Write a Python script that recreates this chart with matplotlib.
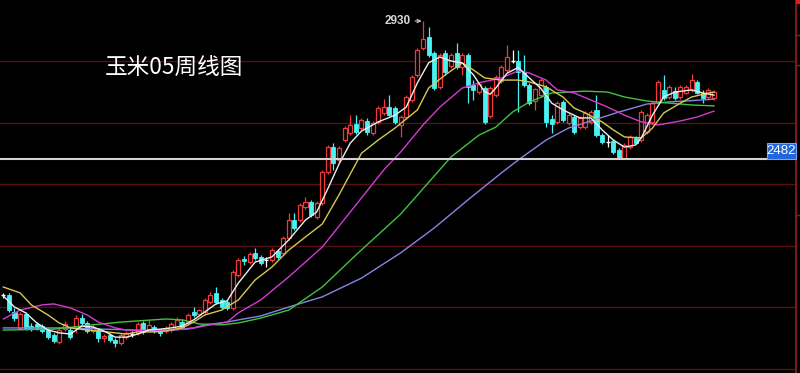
import matplotlib
matplotlib.use('Agg')
import matplotlib.pyplot as plt
import matplotlib.transforms as mtransforms
from matplotlib.patches import Rectangle
import numpy as np

plt.rcParams['font.family'] = ['Noto Sans CJK SC', 'DejaVu Sans']

# ---------------- data (weekly candles, corn 05) ----------------
opens = [
    2039, 2039, 1984, 1932, 1977, 1938, 1945, 1938, 1925, 1909,
    1886, 1928, 1925, 1932, 1964, 1948, 1922, 1925, 1899, 1909,
    1893, 1883, 1902, 1912, 1916, 1948, 1928, 1935, 1922, 1922,
    1925, 1932, 1951, 1948, 1984, 1977, 1984, 2016, 2046, 2023,
    2016, 1997, 2104, 2156, 2146, 2176, 2163, 2153, 2153, 2182,
    2176, 2224, 2283, 2283, 2325, 2342, 2293, 2338, 2439, 2520,
    2478, 2543, 2566, 2595, 2582, 2605, 2566, 2602, 2631, 2650,
    2647, 2592, 2618, 2673, 2755, 2842, 2878, 2826, 2716, 2826,
    2784, 2826, 2781, 2820, 2722, 2699, 2712, 2621, 2689, 2735,
    2771, 2800, 2800, 2764, 2722, 2670, 2689, 2716, 2611, 2602,
    2667, 2598, 2618, 2585, 2585, 2602, 2641, 2559, 2537, 2540,
    2511, 2484, 2520, 2550, 2543, 2569, 2602, 2667, 2706, 2683,
    2702, 2683, 2696, 2706, 2732, 2696, 2683, 2680]
highs = [
    2046, 2046, 1997, 1984, 1984, 1948, 1951, 1945, 1932, 1916,
    1932, 1955, 1935, 1974, 1977, 1955, 1942, 1932, 1912, 1916,
    1899, 1916, 1922, 1922, 1951, 1955, 1958, 1942, 1928, 1938,
    1951, 1968, 1961, 1981, 2000, 1994, 2029, 2049, 2065, 2029,
    2023, 2120, 2159, 2166, 2179, 2192, 2169, 2163, 2192, 2189,
    2231, 2306, 2306, 2338, 2358, 2348, 2345, 2446, 2527, 2533,
    2524, 2589, 2624, 2624, 2615, 2615, 2605, 2654, 2676, 2689,
    2654, 2624, 2689, 2755, 2842, 2930, 2911, 2833, 2826, 2836,
    2826, 2859, 2826, 2826, 2738, 2732, 2719, 2719, 2755, 2787,
    2852, 2836, 2836, 2820, 2729, 2712, 2745, 2722, 2624, 2670,
    2673, 2631, 2624, 2621, 2637, 2641, 2689, 2566, 2559, 2546,
    2517, 2533, 2559, 2556, 2641, 2631, 2670, 2738, 2755, 2722,
    2716, 2722, 2722, 2758, 2738, 2706, 2712, 2706]
lows = [
    2029, 1984, 1955, 1925, 1925, 1922, 1925, 1916, 1896, 1883,
    1880, 1922, 1896, 1916, 1942, 1916, 1916, 1886, 1886, 1886,
    1870, 1876, 1896, 1902, 1909, 1912, 1922, 1916, 1906, 1916,
    1919, 1925, 1928, 1942, 1968, 1971, 1977, 2010, 2010, 1994,
    1990, 1990, 2098, 2137, 2140, 2153, 2137, 2130, 2146, 2156,
    2169, 2218, 2250, 2277, 2319, 2293, 2286, 2332, 2433, 2446,
    2472, 2537, 2559, 2563, 2576, 2559, 2559, 2595, 2624, 2620,
    2595, 2553, 2611, 2667, 2748, 2836, 2813, 2706, 2709, 2755,
    2777, 2774, 2755, 2663, 2673, 2693, 2595, 2615, 2683, 2729,
    2764, 2794, 2634, 2716, 2657, 2641, 2683, 2585, 2566, 2595,
    2602, 2592, 2563, 2579, 2579, 2595, 2553, 2530, 2520, 2498,
    2481, 2481, 2514, 2530, 2537, 2563, 2595, 2660, 2673, 2676,
    2673, 2676, 2693, 2699, 2693, 2663, 2676, 2673]
closes = [
    2039, 1990, 1964, 1977, 1932, 1932, 1932, 1922, 1902, 1889,
    1925, 1945, 1902, 1964, 1948, 1922, 1935, 1899, 1906, 1893,
    1883, 1909, 1916, 1912, 1945, 1919, 1942, 1922, 1916, 1932,
    1945, 1958, 1935, 1974, 1974, 1990, 2023, 2039, 2016, 2000,
    1997, 2114, 2153, 2150, 2172, 2159, 2143, 2153, 2185, 2163,
    2224, 2283, 2257, 2332, 2342, 2299, 2338, 2439, 2520, 2468,
    2517, 2582, 2592, 2569, 2608, 2569, 2598, 2647, 2650, 2624,
    2602, 2618, 2683, 2748, 2836, 2872, 2820, 2712, 2820, 2764,
    2820, 2781, 2820, 2716, 2706, 2725, 2602, 2712, 2748, 2781,
    2813, 2800, 2764, 2722, 2663, 2709, 2738, 2602, 2595, 2663,
    2608, 2624, 2569, 2615, 2631, 2634, 2559, 2537, 2537, 2504,
    2485, 2527, 2553, 2533, 2634, 2624, 2663, 2732, 2680, 2716,
    2680, 2716, 2716, 2738, 2696, 2680, 2706, 2699]

# moving averages (week index, price)
ma5_weeks = [0, 2, 4, 6, 8, 10, 12, 14, 16, 18, 20, 22, 24, 26, 28, 30, 32, 34, 36, 38,
             40, 42, 45, 48, 51, 54, 56, 58, 60, 62, 64, 67, 70, 72, 74, 76, 78, 80, 82,
             84, 86, 87, 88, 90, 92, 94, 96, 98, 100, 103, 105, 107, 109, 111, 113, 114,
             116, 118, 120, 123, 125, 127]
ma5_values = [2036, 2000, 1981, 1948, 1925, 1916, 1912, 1938, 1935, 1922, 1902, 1902, 1912,
              1925, 1928, 1932, 1938, 1958, 1984, 2010, 2020, 2078, 2146, 2163, 2218, 2283,
              2309, 2385, 2465, 2533, 2572, 2602, 2624, 2650, 2729, 2794, 2813, 2800, 2794,
              2755, 2700, 2692, 2712, 2760, 2779, 2745, 2712, 2663, 2641, 2615, 2615, 2576,
              2543, 2520, 2527, 2550, 2624, 2683, 2699, 2706, 2696, 2689]
ma10_weeks = [0, 3, 5, 8, 10, 12, 15, 17, 20, 22, 24, 27, 29, 32, 34, 36, 39, 42, 45, 48,
              51, 54, 57, 60, 64, 67, 70, 74, 76, 79, 82, 84, 86, 89, 92, 94, 97, 100, 102,
              104, 107, 109, 111, 114, 116, 118, 121, 123, 126, 127]
ma10_values = [2065, 2046, 2007, 1974, 1948, 1932, 1925, 1922, 1916, 1912, 1919, 1919, 1922,
               1932, 1951, 1974, 1990, 2023, 2088, 2130, 2185, 2228, 2270, 2365, 2500, 2543,
               2582, 2641, 2712, 2755, 2794, 2771, 2745, 2738, 2738, 2732, 2716, 2683, 2647,
               2631, 2602, 2576, 2553, 2550, 2582, 2631, 2663, 2683, 2696, 2699]
ma20_weeks = [0, 3, 7, 9, 12, 15, 17, 20, 22, 26, 29, 33, 37, 40, 42, 46, 51, 57, 62, 68,
              71, 75, 78, 82, 85, 89, 92, 94, 97, 99, 102, 105, 108, 111, 114, 117, 121, 124, 127]
ma20_values = [1961, 1990, 2007, 2010, 1997, 1974, 1951, 1932, 1925, 1922, 1925, 1928, 1942,
               1951, 1981, 2023, 2098, 2195, 2309, 2446, 2504, 2592, 2650, 2712, 2729, 2745,
               2768, 2761, 2738, 2706, 2696, 2673, 2650, 2624, 2602, 2592, 2605, 2618, 2637]
ma40_weeks = [0, 9, 16, 21, 29, 32, 35, 39, 42, 46, 51, 57, 63, 71, 80, 85, 88, 91, 94, 98,
              104, 108, 111, 115, 119, 123, 127]
ma40_values = [1925, 1928, 1942, 1951, 1961, 1958, 1945, 1942, 1948, 1964, 1990, 2065, 2169,
               2302, 2488, 2559, 2585, 2634, 2667, 2696, 2702, 2699, 2683, 2670, 2663, 2657, 2654]
ma60_weeks = [0, 12, 18, 24, 30, 34, 36, 40, 42, 46, 51, 57, 64, 71, 77, 83, 89, 92, 97, 101,
              106, 110, 115, 119, 122, 127]
ma60_values = [1932, 1932, 1928, 1925, 1925, 1932, 1942, 1951, 1958, 1971, 2000, 2033, 2094,
               2176, 2257, 2348, 2436, 2478, 2543, 2582, 2611, 2634, 2660, 2667, 2670, 2676]

grid_levels = [1800, 2000, 2200, 2400, 2600, 2800]
peak_week, peak_value = 75, 2930
ref_price = 2482
title = '玉米05周线图'

# ---------------- style ----------------
RED = '#f03a3a'
CYAN = '#48f2f2'
GRID = '#561212'
AXIS = '#8c1c1c'

W, H = 800, 373
fig = plt.figure(figsize=(W / 100, H / 100), dpi=100, facecolor='black')
ax = fig.add_axes([0, 0, 795.5 / W, 1])
ax.set_facecolor('black')
ax.set_xlim(-0.59, 141.56)
ax.set_ylim(1785.4, 2998.4)
for side in ['top', 'bottom', 'left']:
    ax.spines[side].set_visible(False)
ax.spines['right'].set_color(AXIS)
ax.spines['right'].set_linewidth(1.3)
ax.set_xticks([])
ax.set_yticks([])

for lv in grid_levels:
    ax.axhline(lv, color=GRID, lw=1.0, zorder=1)

# candles
x = np.arange(len(opens))
o = np.array(opens, float); c = np.array(closes, float)
h = np.array(highs, float); l = np.array(lows, float)
up = c > o
down = c < o
doji = c == o
bw = 0.72

ax.vlines(x[up], l[up], h[up], color=RED, lw=0.9, zorder=2)
ax.vlines(x[down], l[down], h[down], color=CYAN, lw=0.9, zorder=2)
ax.vlines(x[doji], l[doji], h[doji], color='white', lw=0.9, zorder=2)
ax.bar(x[up], c[up] - o[up], bottom=o[up], width=bw, facecolor='black',
       edgecolor=RED, linewidth=0.9, zorder=3)
ax.bar(x[down], o[down] - c[down], bottom=c[down], width=bw, facecolor=CYAN,
       edgecolor=CYAN, linewidth=0.6, zorder=3)
ax.hlines(c[doji], x[doji] - bw / 2, x[doji] + bw / 2, color='white', lw=1.0, zorder=3)

# moving averages
ax.plot(ma60_weeks, ma60_values, color='#8686e4', lw=1.0, zorder=4)
ax.plot(ma40_weeks, ma40_values, color='#3ec43e', lw=1.0, zorder=4)
ax.plot(ma20_weeks, ma20_values, color='#d23ad2', lw=1.0, zorder=4)
ax.plot(ma10_weeks, ma10_values, color='#d6c850', lw=1.0, zorder=4)
ax.plot(ma5_weeks, ma5_values, color='#eeeeee', lw=1.0, zorder=5)

# reference price line and label
box_left = 767 / 795.5
ax.axhline(ref_price, xmin=0, xmax=box_left, color='#d2d2d2', lw=1.5, zorder=6)
btrans = mtransforms.blended_transform_factory(ax.transAxes, ax.transData)
box_h = 16 * (2998.4 - 1785.4) / H
ax.add_patch(Rectangle((box_left, ref_price - 1), 1 - box_left, box_h, transform=btrans,
                       facecolor='#2266dd', edgecolor='#6aa6ff', lw=0.8, zorder=7,
                       clip_on=False))
ax.text((box_left + 1) / 2, ref_price - 1 + box_h / 2, str(ref_price), transform=btrans,
        ha='center', va='center', color='white', fontsize=9.5,
        family=['Liberation Sans', 'DejaVu Sans'], zorder=8)

# peak annotation
ax.annotate(str(peak_value), xy=(peak_week, peak_value), xytext=(-12, 0),
            textcoords='offset pixels', ha='right', va='center',
            fontsize=8.5, fontweight='bold', color='#d8d8d8',
            family=['Liberation Sans', 'DejaVu Sans'],
            arrowprops=dict(arrowstyle='->', color='#d0d0d0', lw=0.8,
                            shrinkA=1, shrinkB=1, mutation_scale=6), zorder=8)

# title
fig.text(105 / W, 1 - 67 / H, title, color='white', fontsize=16.3, ha='left', va='center',
         family=['Noto Sans CJK SC', 'DejaVu Sans'])

# small axis marks to the right of the price axis
for yy in [35, 65, 215]:
    fig.add_artist(plt.Line2D([796 / W, 800 / W], [1 - yy / H, 1 - yy / H], color=AXIS, lw=1))
fig.add_artist(Rectangle((796 / W, 1 - 4 / H), 4 / W, 4 / H, transform=fig.transFigure,
                         facecolor='#e02020', edgecolor='none'))

fig.savefig('out.png', dpi=100, facecolor='black')
